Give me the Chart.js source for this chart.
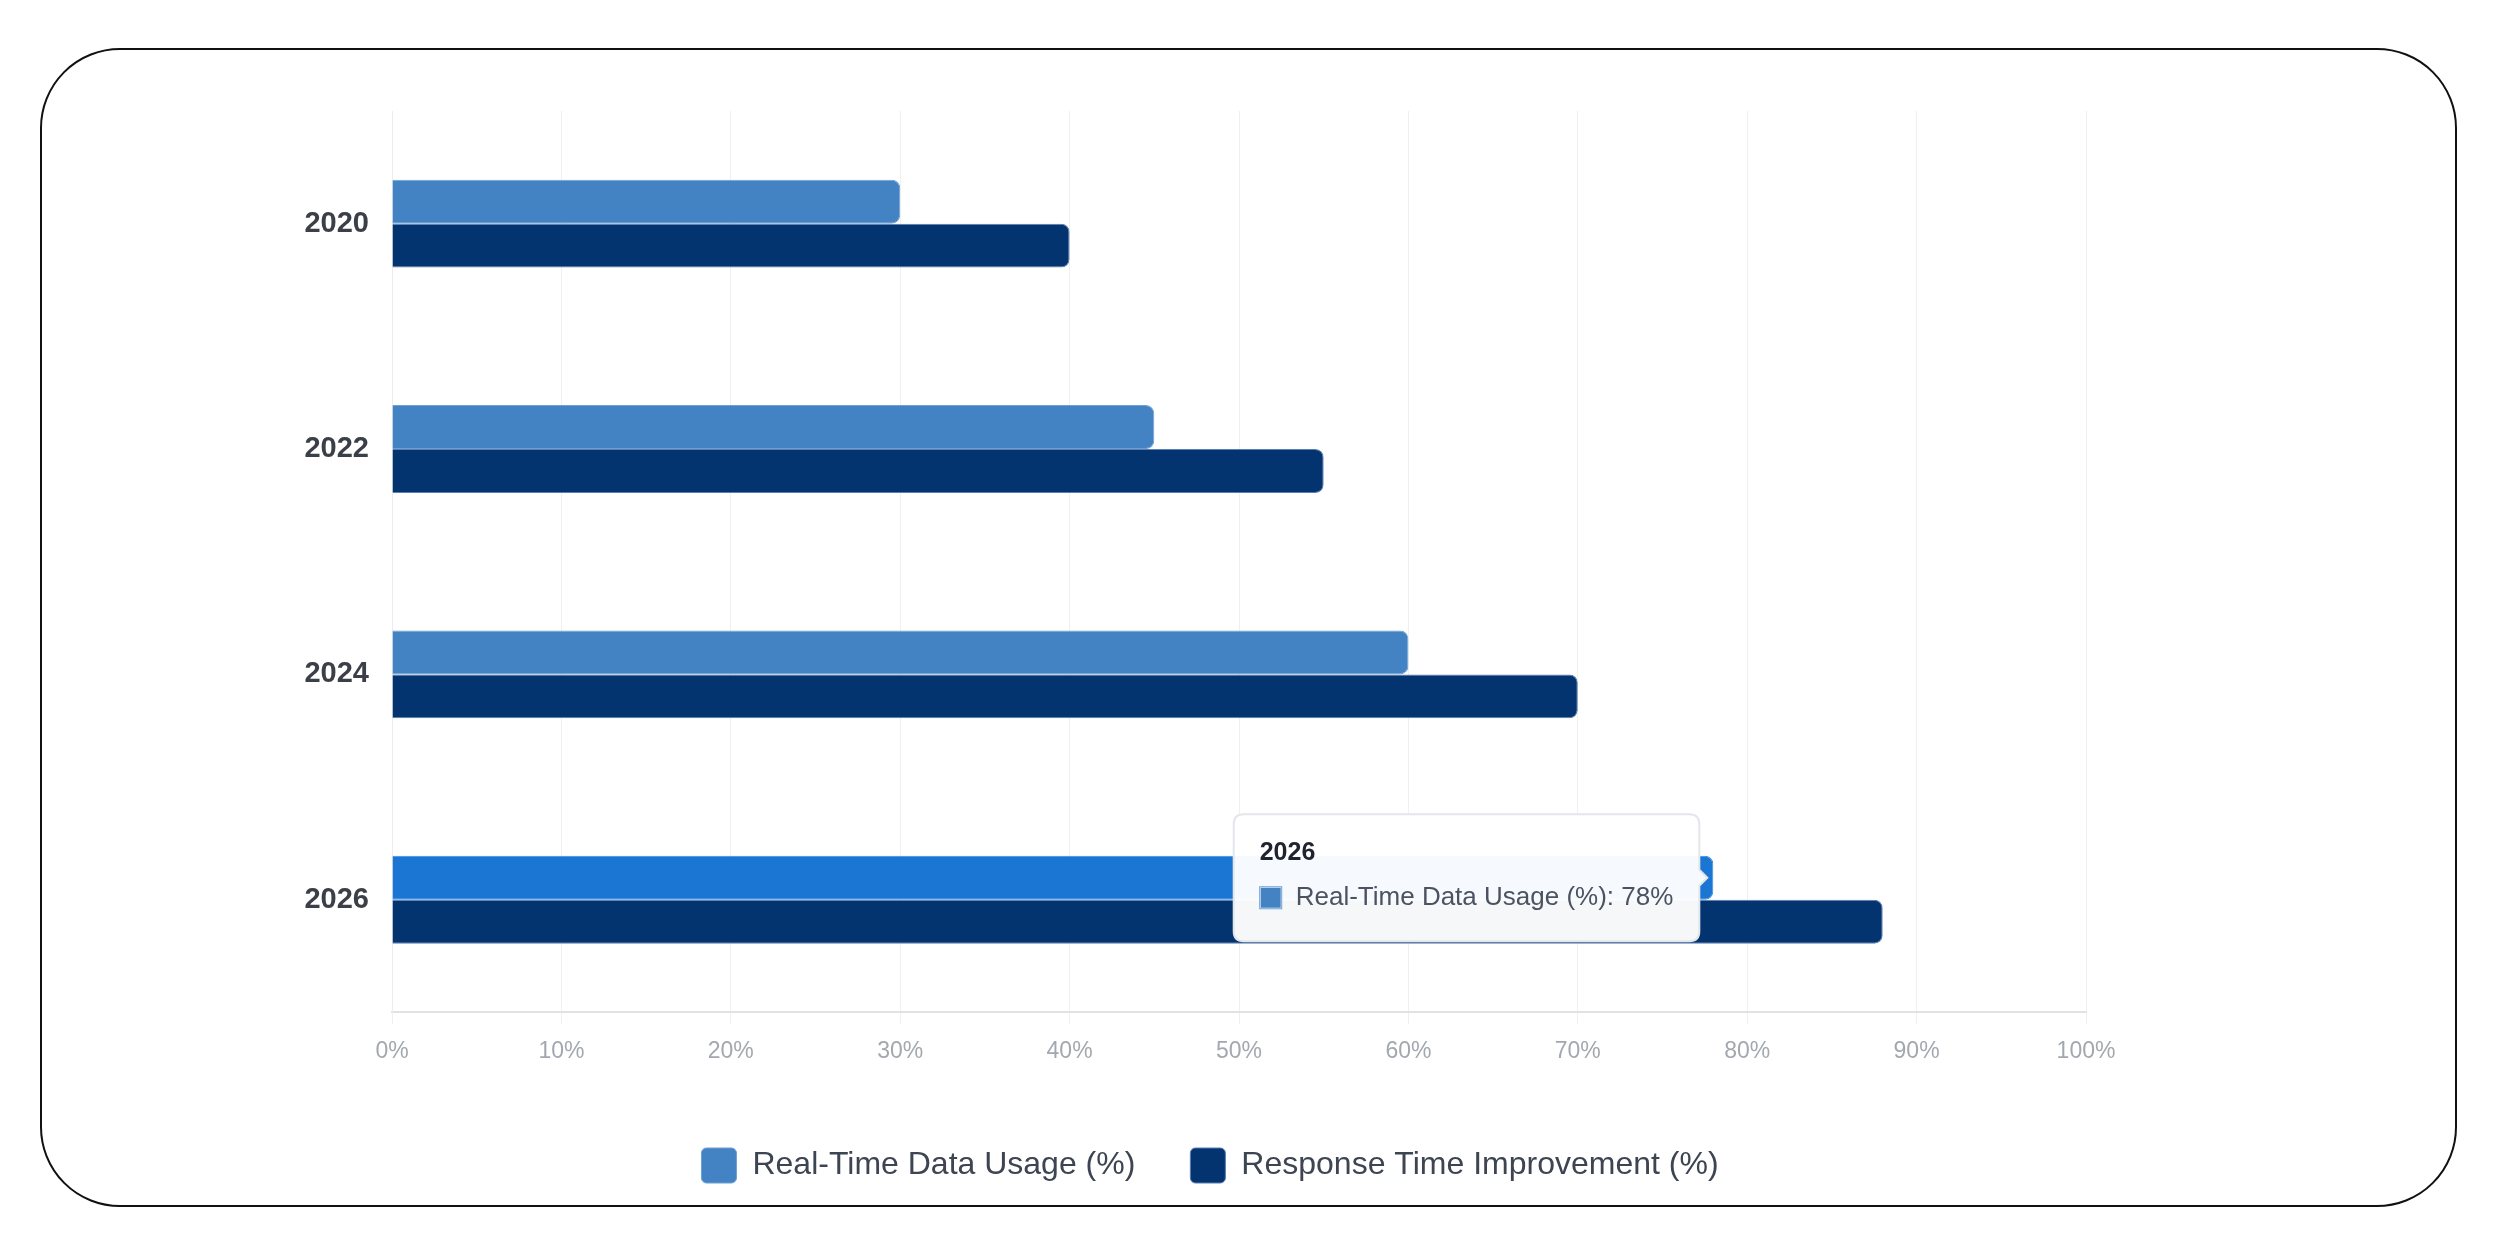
<!DOCTYPE html>
<html>
<head>
<meta charset="utf-8">
<script src="https://cdn.jsdelivr.net/npm/chart.js@4.4.1/dist/chart.umd.min.js"></script>
<style>
  html, body { margin: 0; padding: 0; background: #fff; }
  #wrap { position: relative; width: 2497px; height: 1240px; }
  #frame {
    position: absolute; left: 40px; top: 48px; width: 2413px; height: 1155px;
    border: 2px solid #111; border-radius: 80px;
  }
  #box { position: absolute; left: 0; top: 0; width: 2420px; height: 1240px; }
</style>
</head>
<body>
<div id="wrap">
  <div id="frame"></div>
  <div id="box"><canvas id="myChart"></canvas></div>
</div>
<script>
// values
const years = ["2020", "2022", "2024", "2026"];
const realTimeUsage = [30, 45, 60, 78];
const responseImprovement = [40, 55, 70, 88];
const seriesNames = ["Real-Time Data Usage (%)", "Response Time Improvement (%)"];
const xMin = 0, xMax = 100, xStep = 10;

const lightBlue = "#4383c4";
const darkBlue = "#03346f";
const fontFamily = "'Liberation Sans', Arial, sans-serif";
const legendCenterX = 1210;

// legend sits centred under the whole card, not under the plot
const legendShift = {
  id: "legendShift",
  afterLayout(chart) {
    const l = chart.legend;
    const dx = legendCenterX - (l.left + l.right) / 2;
    l.left += dx;
    l.right += dx;
  },
};

const chart = new Chart("myChart", {
  type: "bar",
  data: {
    labels: years,
    datasets: [
      {
        label: seriesNames[0],
        data: realTimeUsage,
        backgroundColor: lightBlue,
        hoverBackgroundColor: "#1a76d2",
        borderColor: "#6f9fd4",
        borderWidth: 1,
        borderRadius: 8,
        categoryPercentage: 0.39,
        barPercentage: 1,
      },
      {
        label: seriesNames[1],
        data: responseImprovement,
        backgroundColor: darkBlue,
        hoverBackgroundColor: darkBlue,
        borderColor: "#5b7db3",
        borderWidth: 1,
        borderRadius: 8,
        categoryPercentage: 0.39,
        barPercentage: 1,
      },
    ],
  },
  plugins: [legendShift],
  options: {
    indexAxis: "y",
    responsive: true,
    maintainAspectRatio: false,
    animation: false,
    devicePixelRatio: 1,
    layout: { padding: { top: 111, left: 0, right: 334, bottom: 47 } },
    scales: {
      x: {
        min: xMin,
        max: xMax,
        afterFit: (s) => { s.height += 15; },
        ticks: {
          stepSize: xStep,
          padding: 13,
          color: "#a3a8b0",
          font: { family: fontFamily, size: 23 },
          callback: (v) => v + "%",
        },
        grid: { color: "#f0f0f0", lineWidth: 1, tickLength: 12 },
        border: { color: "#e2e2e2", width: 2 },
      },
      y: {
        afterFit: (s) => { s.width = 392; },
        ticks: {
          padding: 15,
          color: "#3b3f47",
          font: { family: fontFamily, size: 29, weight: "bold" },
        },
        grid: { display: false },
        border: { color: "#ececec", width: 1 },
      },
    },
    plugins: {
      legend: {
        position: "bottom",
        labels: {
          boxWidth: 35,
          boxHeight: 35,
          useBorderRadius: true,
          borderRadius: 5,
          padding: 55,
          color: "#3d4452",
          font: { family: fontFamily, size: 32 },
        },
      },
      tooltip: {
        backgroundColor: "rgba(255,255,255,0.96)",
        borderColor: "#e3e6ea",
        borderWidth: 2,
        cornerRadius: 10,
        titleColor: "#1f2430",
        bodyColor: "#4b5260",
        titleFont: { family: fontFamily, size: 25, weight: "bold" },
        bodyFont: { family: fontFamily, size: 26 },
        titleMarginBottom: 14,
        padding: { top: 24, bottom: 28, left: 26, right: 26 },
        boxWidth: 22,
        boxHeight: 22,
        boxPadding: 12,
        caretSize: 8,
        caretPadding: 6,
        xAlign: "right",
        yAlign: "center",
        callbacks: {
          label: (ctx) => ctx.dataset.label + ": " + ctx.parsed.x + "%",
        },
      },
    },
  },
});

// show the hovered state of the 2026 real-time bar like the picture
const active = [{ datasetIndex: 0, index: 3 }];
const el = chart.getDatasetMeta(0).data[3];
chart.setActiveElements(active);
chart.tooltip.setActiveElements(active, { x: el.x, y: el.y });
chart.update();
</script>
</body>
</html>
